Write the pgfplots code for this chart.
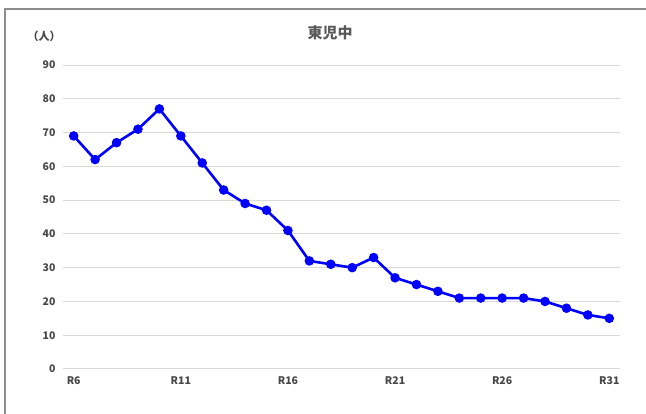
\documentclass[border=0pt]{standalone}
\usepackage{pgfplots}
\pgfplotsset{compat=1.18}
\usepackage{fontspec}
\setmainfont{Noto Sans CJK JP}
\definecolor{txt}{HTML}{595959}
\definecolor{grd}{HTML}{D9D9D9}
\begin{document}
\begin{tikzpicture}[x=1pt,y=1pt]
\useasboundingbox (0,0) rectangle (646,414);
\draw[color={rgb,255:red,140;green,140;blue,140}, line width=1.5pt] (5,0) -- (5,405) -- (646,405);
\begin{axis}[
  at={(63pt,45pt)}, anchor=south west,
  scale only axis, width=557pt, height=304pt,
  xmin=-0.5, xmax=25.5, ymin=0, ymax=90,
  axis line style={draw=none},
  ymajorgrids, grid style={grd, line width=1pt},
  ytick={0,10,...,90},
  xtick={0,5,10,15,20,25},
  xticklabels={R6,R11,R16,R21,R26,R31},
  tick label style={font=\fontsize{10.5}{12}\selectfont\bfseries, text=txt!80!black},
  /pgf/number format/assume math mode=true,
  yticklabel style={anchor=east, xshift=-4pt},
  xticklabel style={anchor=north, yshift=-4pt},
  major tick length=0pt,
  clip=false,
]
\addplot[blue, line width=2.6pt, mark=*, mark size=3.4pt, mark options={solid}] coordinates {
(0,69) (1,62) (2,67) (3,71) (4,77) (5,69) (6,61) (7,53) (8,49) (9,47)
(10,41) (11,32) (12,31) (13,30) (14,33) (15,27) (16,25) (17,23) (18,21) (19,21)
(20,21) (21,21) (22,20) (23,18) (24,16) (25,15)
};
\end{axis}
\node[text=txt, font=\fontsize{15}{17}\selectfont\bfseries] at (330,381) {東児中};
\node[text=txt!80!black, font=\fontsize{11}{13}\selectfont\bfseries] at (44,378) {（人）};
\end{tikzpicture}
\end{document}
